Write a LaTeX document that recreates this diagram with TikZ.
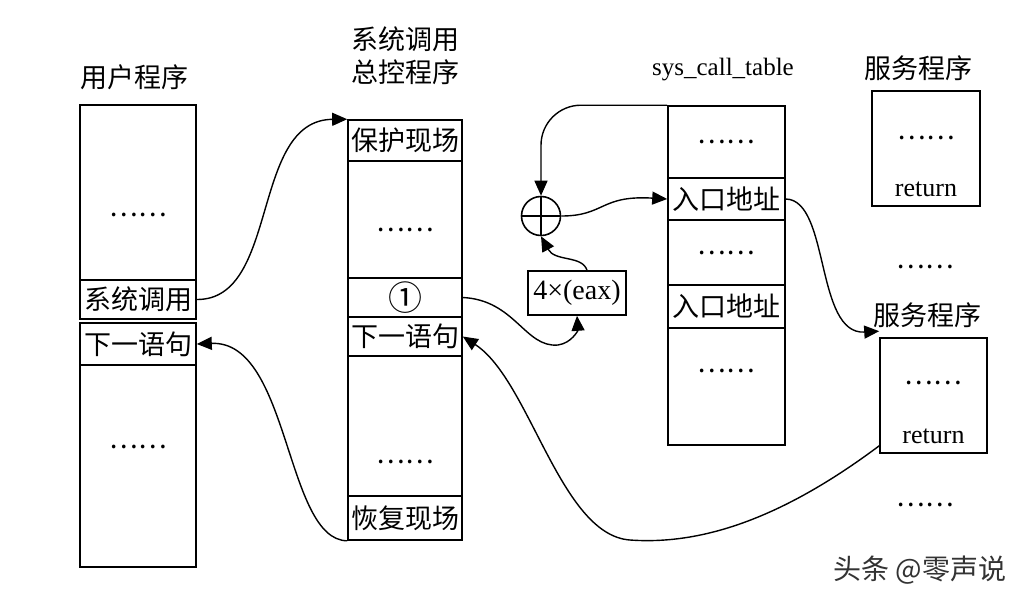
\documentclass[tikz,border=0pt]{standalone}
\usepackage{fontspec}
\usetikzlibrary{arrows.meta}
\setmainfont{Liberation Serif}
\newfontfamily\cjk{Noto Sans CJK SC}
\newcommand{\cjkfont}{\cjk\fontsize{13.5}{16.5}\selectfont}
\newcommand{\latfont}{\fontsize{13}{16}\selectfont}

\tikzset{
  cell/.style={draw, line width=0.8pt, inner sep=0pt, font=\cjkfont},
  title/.style={font=\cjkfont, align=center},
  txt/.style={font=\cjkfont, inner sep=1pt},
  lat/.style={font=\latfont, inner sep=1pt},
  dots/.style={label={[txt, yshift=#1]center:……}},
  arr/.style={line width=0.7pt, -{Triangle[length=7.5pt,width=6.5pt]}}
}

\begin{document}
\begin{tikzpicture}[x=0.5pt, y=-0.5pt]
  \useasboundingbox (0,0) rectangle (1032,600);

  % user program
  \node[title] (usrtitle) at (134,77) {用户程序};
  \node[cell, minimum width=58pt, minimum height=87.5pt, dots=-11pt] (usr1) at (138,192.5) {};
  \node[cell, minimum width=58pt, minimum height=19.5pt] (usr2) at (138,299.5) {系统调用};
  \node[cell, minimum width=58pt, minimum height=21pt] (usr3) at (138,344) {下一语句};
  \node[cell, minimum width=58pt, minimum height=101pt, dots=9.5pt] (usr4) at (138,466) {};

  % dispatcher
  \node[title] (distitle) at (405,56) {系统调用\\总控程序};
  \node[cell, minimum width=57pt, minimum height=20.5pt] (dis1) at (405,140.5) {保护现场};
  \node[cell, minimum width=57pt, minimum height=58.5pt, dots=-5pt] (dis2) at (405,219.5) {};
  \node[cell, minimum width=57pt, minimum height=19.5pt, font=\cjk\fontsize{17}{17}\selectfont] (dis3) at (405,297.5) {①};
  \node[cell, minimum width=57pt, minimum height=19.5pt] (dis4) at (405,336.5) {下一语句};
  \node[cell, minimum width=57pt, minimum height=70pt, dots=-18pt] (dis5) at (405,426) {};
  \node[cell, minimum width=57pt, minimum height=22pt] (dis6) at (405,518) {恢复现场};

  % sys_call_table
  \node[lat, font=\fontsize{12.5}{15}\selectfont] (tabtitle) at (723,70) {sys\_call\_table};
  \node[cell, minimum width=58.5pt, minimum height=36pt] (tab1) at (726.5,142) {……};
  \node[cell, minimum width=58.5pt, minimum height=21pt] (tab2) at (726.5,199) {入口地址};
  \node[cell, minimum width=58.5pt, minimum height=32.5pt] (tab3) at (726.5,252.5) {……};
  \node[cell, minimum width=58.5pt, minimum height=21.5pt] (tab4) at (726.5,306.5) {入口地址};
  \node[cell, minimum width=58.5pt, minimum height=58.5pt, dots=8pt] (tab5) at (726.5,386.5) {};

  % service routines
  \node[title] (srvtitle1) at (918,68) {服务程序};
  \node[cell, minimum width=54pt, minimum height=57.5pt] (srv1) at (926,148.5) {};
  \node[txt] (srvdots1) at (926,138) {……};
  \node[lat] (srvret1) at (926,189) {return};
  \node[txt] (gapdots1) at (925,267) {……};
  \node[title] (srvtitle2) at (927,315) {服务程序};
  \node[cell, minimum width=53.5pt, minimum height=57.5pt] (srv2) at (933.5,395.5) {};
  \node[txt] (srvdots2) at (933.5,383) {……};
  \node[lat] (srvret2) at (933.5,436) {return};
  \node[txt] (gapdots2) at (925,505) {……};

  % adder and offset
  \node[draw, circle, line width=0.8pt, minimum size=19.5pt, inner sep=0pt] (plus) at (541,216) {};
  \draw[line width=0.8pt] (plus.north) -- (plus.south) (plus.west) -- (plus.east);
  \node[cell, font=\fontsize{14}{16}\selectfont, minimum width=49pt, minimum height=22pt] (eax) at (577,293) {4×(eax)};

  % connectors
  \draw[arr] (usr2.east) .. controls (280,300) and (250,120) .. (dis1.north west);
  \draw[arr] (dis6.south west) .. controls (285,540) and (290,340) .. (usr3.east);
  \draw[arr] ([yshift=4pt]srv2.south west) .. controls (780,520) and (700,545) .. (630,540)
    .. controls (560,535) and (530,380) .. (dis4.east);
  \draw[arr] (dis3.east) .. controls (515,300) and (525,348) .. (558,345)
    .. controls (572,343) and (578,330) .. (eax.south);
  \draw[arr] ([xshift=5pt]eax.north) .. controls (582,255) and (555,262) .. (plus.south);
  \draw[arr, rounded corners=20pt] (tab1.north west) -| (plus.north);
  \draw[arr] (plus.east) .. controls (605,216) and (600,195) .. (tab2.west);
  \draw[arr] (tab2.east) .. controls (830,200) and (815,335) .. ([yshift=3pt]srv2.north west);

  % watermark
  \node[font=\cjk\fontsize{14}{16}\selectfont, text=black!80] (mark) at (920,570) {头条 @零声说};
\end{tikzpicture}
\end{document}
